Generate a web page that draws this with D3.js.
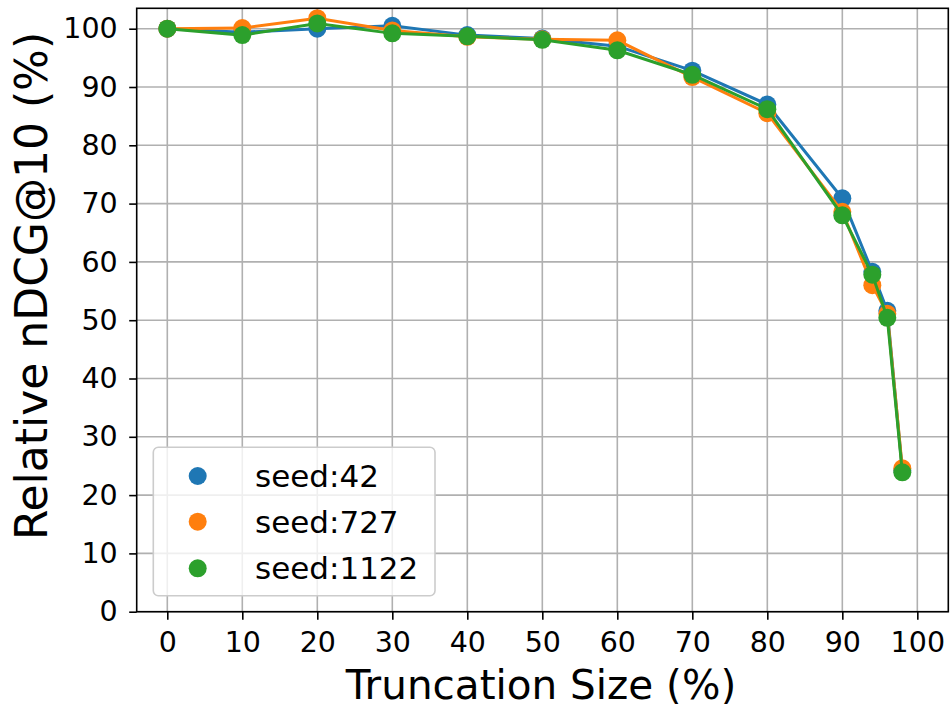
<!DOCTYPE html>
<html>
<head>
<meta charset="utf-8">
<script src="https://cdn.jsdelivr.net/npm/d3@7"></script>
<style>
  html, body { margin: 0; padding: 0; background: #fff; }
  svg { display: block; font-family: "DejaVu Sans", sans-serif; }
</style>
</head>
<body>
<svg id="chart" width="950" height="704"></svg>
<script>
const truncation = [0, 10, 20, 30, 40, 50, 60, 70, 80, 90, 94, 96, 98];
const seed42   = [100, 99.4, 100.0, 100.5, 98.9, 98.3, 97.0, 92.8, 87.0, 70.9, 58.3, 51.6, 24.2];
const seed727  = [100, 100.1, 101.8, 99.7, 98.6, 98.2, 98.0, 91.7, 85.5, 68.6, 56.0, 51.1, 24.6];
const seed1122 = [100, 98.9, 100.9, 99.2, 98.7, 98.1, 96.3, 92.1, 86.2, 68.0, 57.8, 50.4, 23.9];
const seriesNames = ["seed:42", "seed:727", "seed:1122"];
const seriesColors = ["#1f77b4", "#ff7f0e", "#2ca02c"];
const xTicks = [0, 10, 20, 30, 40, 50, 60, 70, 80, 90, 100];
const yTicks = [0, 10, 20, 30, 40, 50, 60, 70, 80, 90, 100];

const seriesValues = [seed42, seed727, seed1122];
const series = seriesNames.map((name, i) => ({
  name, color: seriesColors[i],
  points: truncation.map((t, j) => ({ x: t, y: seriesValues[i][j] }))
}));

const svg = d3.select("#chart");
const plot = { left: 136.7, right: 948.3, top: 8.3, bottom: 611.7 };

const x = d3.scaleLinear().domain([-4.08, 104.13]).range([plot.left, plot.right]);
const y = d3.scaleLinear().domain([0, 103.5]).range([plot.bottom, plot.top]);

// grid
const grid = svg.append("g");
grid.selectAll("line.vx").data(xTicks).join("line")
  .attr("x1", d => x(d)).attr("x2", d => x(d))
  .attr("y1", plot.top).attr("y2", plot.bottom)
  .attr("stroke", "#b0b0b0").attr("stroke-width", 1.6);
grid.selectAll("line.hy").data(yTicks).join("line")
  .attr("y1", d => y(d)).attr("y2", d => y(d))
  .attr("x1", plot.left).attr("x2", plot.right)
  .attr("stroke", "#b0b0b0").attr("stroke-width", 1.6);

// axes
const xAxis = d3.axisBottom(x).tickValues(xTicks).tickSize(8).tickPadding(12).tickFormat(d3.format("d"));
const yAxis = d3.axisLeft(y).tickValues(yTicks).tickSize(7.5).tickPadding(11.5).tickFormat(d3.format("d"));

const gx = svg.append("g").attr("transform", `translate(0,${plot.bottom})`).call(xAxis);
const gy = svg.append("g").attr("transform", `translate(${plot.left},0)`).call(yAxis);
[gx, gy].forEach(g => {
  g.select(".domain").remove();
  g.selectAll(".tick line").attr("stroke", "#000").attr("stroke-width", 1.6);
  g.selectAll(".tick text").attr("fill", "#000").style("font-size", "28.5px")
    .style("font-family", "'DejaVu Sans', sans-serif");
});

// lines & markers
const line = d3.line().x(d => x(d.x)).y(d => y(d.y));
svg.append("clipPath").attr("id", "clip").append("rect")
  .attr("x", plot.left).attr("y", plot.top)
  .attr("width", plot.right - plot.left).attr("height", plot.bottom - plot.top);
const data = svg.append("g").attr("clip-path", "url(#clip)");
series.forEach(s => {
  data.append("path").datum(s.points).attr("d", line)
    .attr("fill", "none").attr("stroke", s.color).attr("stroke-width", 3);
  data.selectAll(null).data(s.points).join("circle")
    .attr("cx", d => x(d.x)).attr("cy", d => y(d.y)).attr("r", 9)
    .attr("fill", s.color);
});

// frame
svg.append("rect").attr("x", plot.left).attr("y", plot.top)
  .attr("width", plot.right - plot.left).attr("height", plot.bottom - plot.top)
  .attr("fill", "none").attr("stroke", "#000").attr("stroke-width", 1.6);

// legend
const lg = svg.append("g");
lg.append("rect").attr("x", 153.3).attr("y", 447.3).attr("width", 281.7).attr("height", 148.4)
  .attr("rx", 5).attr("fill", "#fff").attr("fill-opacity", 0.8)
  .attr("stroke", "#cccccc").attr("stroke-width", 1.6);
const legendY = [476, 521.7, 568.3];
series.forEach((s, i) => {
  lg.append("circle").attr("cx", 197.7).attr("cy", legendY[i]).attr("r", 9).attr("fill", s.color);
  lg.append("text").attr("x", 255).attr("y", legendY[i]).attr("dy", "0.36em")
    .style("font-size", "31px").attr("fill", "#000").text(s.name);
});

// axis labels
svg.append("text").attr("x", 541).attr("y", 699).attr("text-anchor", "middle")
  .style("font-size", "40.5px").attr("fill", "#000").text("Truncation Size (%)");
svg.append("text").attr("transform", "translate(47,286) rotate(-90)").attr("text-anchor", "middle")
  .style("font-size", "44px").attr("fill", "#000").text("Relative nDCG@10 (%)");
</script>
</body>
</html>
